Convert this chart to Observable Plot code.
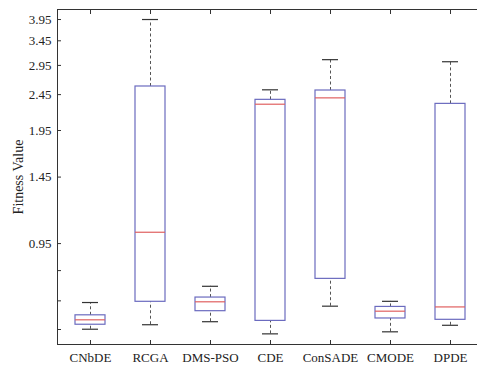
<!DOCTYPE html>
<html>
<head>
<meta charset="utf-8">
<script src="https://cdn.jsdelivr.net/npm/d3@7"></script>
<script src="https://cdn.jsdelivr.net/npm/@observablehq/plot@0.6"></script>
<style>
  html, body { margin: 0; padding: 0; background: #fff; }
  g[aria-label="y-axis label"] { font-size: 14px; }
</style>
</head>
<body>
<div id="chart"></div>
<script>
const categories = ["CNbDE", "RCGA", "DMS-PSO", "CDE", "ConSADE", "CMODE", "DPDE"];
const whiskerLow  = [0.551, 0.567, 0.578, 0.535, 0.638, 0.542, 0.565];
const boxLow      = [0.567, 0.656, 0.618, 0.581, 0.759, 0.590, 0.585];
const medians     = [0.585, 1.021, 0.656, 2.305, 2.400, 0.618, 0.635];
const boxHigh     = [0.602, 2.580, 0.674, 2.370, 2.515, 0.635, 2.310];
const whiskerHigh = [0.653, 3.950, 0.724, 2.526, 3.060, 0.658, 3.020];
const yTicks = [0.95, 1.45, 1.95, 2.45, 2.95, 3.45, 3.95];
const yMinorTicks = [0.55, 0.66, 0.80];

const data = categories.map((c, i) => ({
  name: c, lo: whiskerLow[i], q1: boxLow[i], med: medians[i], q3: boxHigh[i], hi: whiskerHigh[i]
}));

const axisColor = "#333";
const boxColor = "#6b6bbf";
const medColor = "#e06060";
const whiskColor = "#555";

const chart = Plot.plot({
  width: 477,
  height: 366,
  marginLeft: 57,
  marginRight: 0,
  marginTop: 9,
  marginBottom: 22,
  style: { fontFamily: "Liberation Serif, Times New Roman, serif", fontSize: "13px", background: "#fff", color: "#222" },
  x: { domain: categories, range: [57, 482], paddingInner: 0.5, paddingOuter: 0.25, label: null },
  y: { type: "log", domain: [0.5, 4.21], label: null },
  marks: [
    Plot.frame({ stroke: axisColor }),
    // whiskers
    Plot.ruleX(data, { x: "name", y1: "q3", y2: "hi", stroke: whiskColor, strokeDasharray: "3,2.5" }),
    Plot.ruleX(data, { x: "name", y1: "lo", y2: "q1", stroke: whiskColor, strokeDasharray: "3,2.5" }),
    // caps
    Plot.tickY(data, { x: "name", y: "hi", stroke: "#333", insetLeft: 7, insetRight: 7, strokeWidth: 1.2 }),
    Plot.tickY(data, { x: "name", y: "lo", stroke: "#333", insetLeft: 7, insetRight: 7, strokeWidth: 1.2 }),
    // boxes
    Plot.barY(data, { x: "name", y1: "q1", y2: "q3", fill: "none", stroke: boxColor, strokeWidth: 1.2 }),
    // medians
    Plot.tickY(data, { x: "name", y: "med", stroke: medColor, strokeWidth: 1.2 }),
    // axes
    Plot.axisX({ anchor: "bottom", tickSize: 0, tickPadding: 8, fontSize: 13 }),
    Plot.axisX({ anchor: "bottom", tickSize: -4, tickFormat: () => "", stroke: axisColor }),
    Plot.axisX({ anchor: "top", tickSize: -4, tickFormat: () => "", stroke: axisColor }),
    Plot.axisY({ anchor: "left", ticks: yTicks, tickSize: 0, tickPadding: 6, tickFormat: d3.format(".2f"), fontSize: 13,
                 label: "Fitness Value", labelAnchor: "center", labelArrow: "none", labelOffset: 44 }),
    Plot.axisY({ anchor: "left", ticks: yTicks.concat(yMinorTicks), tickSize: -4, tickFormat: () => "", stroke: axisColor })
  ]
});
document.getElementById("chart").appendChild(chart);
</script>
</body>
</html>
